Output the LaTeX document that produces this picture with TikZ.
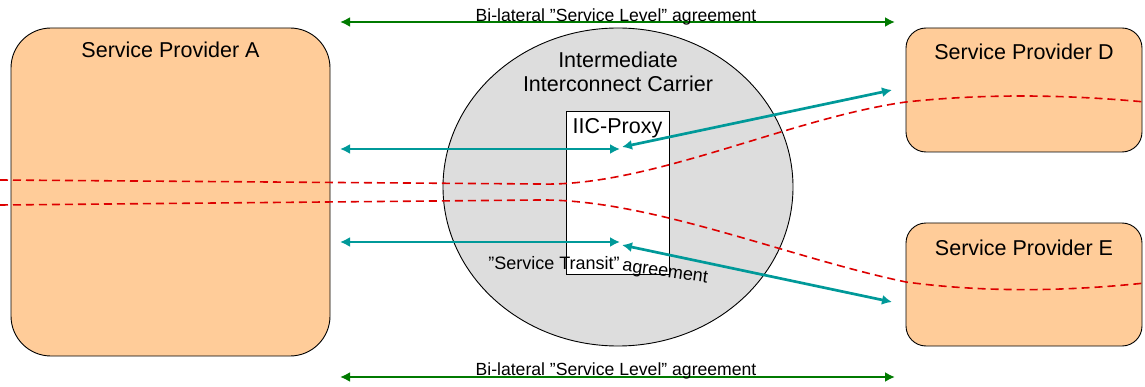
\documentclass[tikz,border=0pt]{standalone}
\usepackage{fontspec}
\setmainfont{Liberation Sans}
\usetikzlibrary{arrows.meta,calc,shapes.geometric}

\definecolor{peach}{HTML}{FFCC99}
\definecolor{carrier}{HTML}{DDDDDD}
\definecolor{signal}{HTML}{009999}
\definecolor{slagreen}{HTML}{007A00}
\definecolor{media}{HTML}{DD0000}

\begin{document}
\begin{tikzpicture}[x=1pt,y=-1pt,>=Latex,
    provider/.style={draw=black,line width=0.9pt,fill=peach,rounded corners=#1,inner sep=0pt},
    title/.style={font=\fontsize{21.5}{24}\selectfont,align=center,inner sep=0pt},
    agree/.style={font=\fontsize{17.6}{20}\selectfont,inner sep=0pt},
    signalling/.style={signal,line width=2.7pt,{Latex[length=10pt,width=10pt]}-{Latex[length=10pt,width=10pt]}},
    sla/.style={slagreen,line width=2.7pt,{Latex[length=10pt,width=10pt]}-{Latex[length=10pt,width=10pt]}},
    mediapath/.style={media,line width=1.6pt,dash pattern=on 8pt off 5pt}]
      \useasboundingbox (0,0) rectangle (1145,387);

      % service providers
      \node[provider=40pt,minimum width=319pt,minimum height=328pt] (spA) at (170.5,192) {};
      \node[provider=20pt,minimum width=236pt,minimum height=124pt] (spD) at (1024,90) {};
      \node[provider=20pt,minimum width=236pt,minimum height=123pt] (spE) at (1024,284.5) {};
      \node[title] at ([yshift=-22pt]spA.north) {Service Provider A};
      \node[title] at ([yshift=-24pt]spD.north) {Service Provider D};
      \node[title] at ([yshift=-25pt]spE.north) {Service Provider E};

      % intermediate carrier with its proxy
      \node[ellipse,draw=black,line width=0.9pt,fill=carrier,minimum width=350pt,minimum height=318pt] (iic) at (618,187) {};
      \node[title] at (618,72) {Intermediate\\Interconnect Carrier};
      \node[draw=black,line width=0.9pt,fill=white,minimum width=103pt,minimum height=163pt,inner sep=0pt] (proxy) at (617.5,192.5) {};
      \node[title] at ([yshift=-18pt]proxy.north) {IIC-Proxy};

      % media paths
      \draw[mediapath] (0,180) -- (540,184) .. controls (650,187) and (790,118) .. (906,102)
            .. controls (980,94) and (1060,94) .. (1145,102);
      \draw[mediapath] (0,205) -- (540,200) .. controls (650,199) and (790,258) .. (906,282)
            .. controls (980,292) and (1060,292) .. (1145,283);

      % signalling
      \coordinate (aUp) at (340,149);
      \coordinate (aLow) at (340,242);
      \coordinate (pxUp) at (620,149);
      \coordinate (pxLow) at (620,242);
      \coordinate (pxD) at (622,147);
      \coordinate (pxE) at (622,245);
      \coordinate (dIn) at (892,90);
      \coordinate (eIn) at (892,302);
      \draw[signalling] (aUp) -- (pxUp);
      \draw[signalling] (aLow) -- (pxLow);
      \draw[signalling] (pxD) -- (dIn);
      \draw[signalling] (pxE) -- (eIn);
      \node[font=\fontsize{18}{20}\selectfont,inner sep=0pt] (transit) at (554,263) {”Service Transit”};
      \node[font=\fontsize{18}{20}\selectfont,inner sep=0pt,rotate=-8] at (665,273) {agreement};

      % service level agreements
      \coordinate (slaTL) at (340,22);
      \coordinate (slaTR) at (895,22);
      \coordinate (slaBL) at (340,377);
      \coordinate (slaBR) at (895,377);
      \draw[sla] (slaTL) -- (slaTR);
      \draw[sla] (slaBL) -- (slaBR);
      \node[agree] at (616,17) {Bi-lateral ”Service Level” agreement};
      \node[agree] at (616,371) {Bi-lateral ”Service Level” agreement};
    \end{tikzpicture}
\end{document}
